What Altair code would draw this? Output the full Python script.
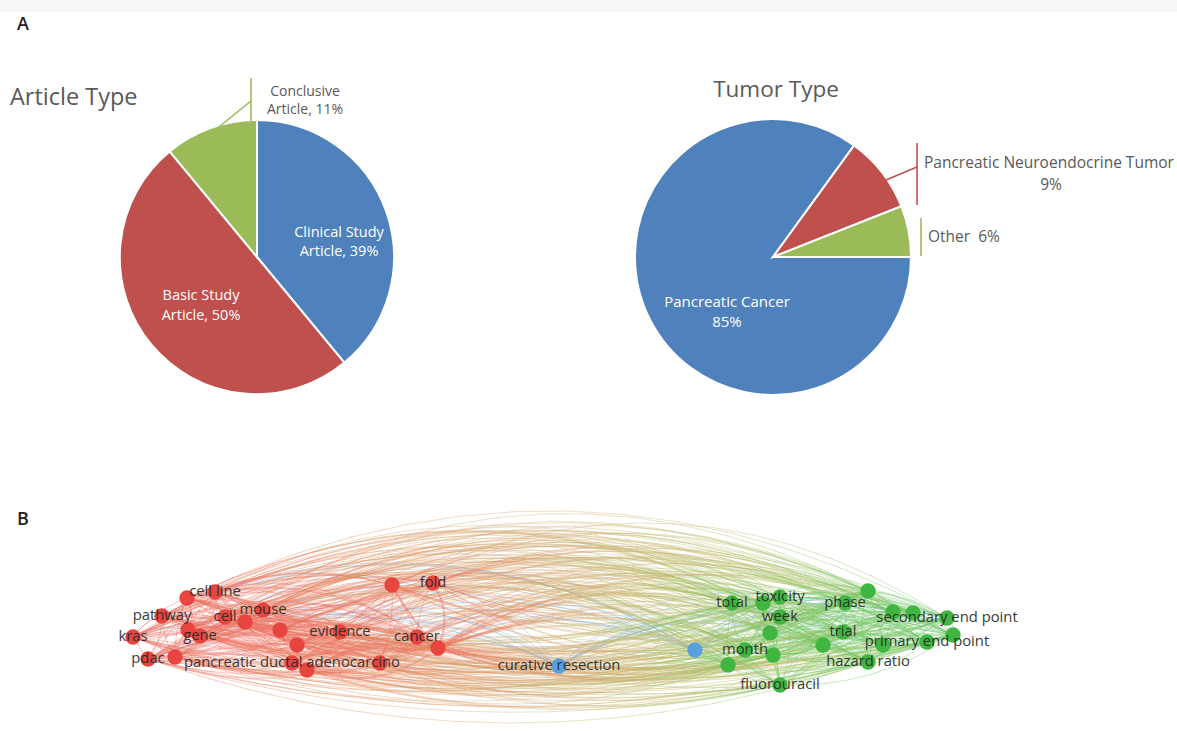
import math
import altair as alt
import pandas as pd

alt.data_transformers.disable_max_rows()

FIG_W, FIG_H = 1177, 731
FONT = "Open Sans"

# ---------------- Panel A: share of publications ----------------
article_types = ["Clinical Study Article", "Basic Study Article", "Conclusive Article"]
article_pct = [39, 50, 11]
tumor_types = ["Pancreatic Cancer", "Pancreatic Neuroendocrine Tumor", "Other"]
tumor_pct = [85, 9, 6]
slice_colors = ["#4F81BD", "#C0504D", "#9BBB59"]

# ---------------- Panel B: keyword co-occurrence map ----------------
# layout coordinates of every keyword node (x to the right, y upwards)
node_x = [-3.58, -3.30, -3.83, -4.12, -3.57, -3.45, -3.20, -3.00, -2.82, -2.65,
          -2.48, -2.05, -1.53, -1.12, -1.28, -1.07, -3.97, -3.70, -2.53, -2.38,
          -1.65,
          0.14, 1.50,
          1.87, 2.18, 2.35, 3.23, 3.00, 2.35, 2.25, 2.00, 2.28, 1.83,
          2.35, 2.78, 2.98, 3.48, 3.68, 4.02, 3.82, 4.08, 3.23, 3.38]
node_y = [0.42, 0.48, 0.24, 0.03, 0.10, 0.04, 0.23, 0.18, 0.30, 0.10,
          -0.05, 0.08, 0.55, 0.57, 0.03, -0.08, -0.19, -0.17, -0.23, -0.30,
          -0.23,
          -0.26, -0.10,
          0.37, 0.37, 0.43, 0.49, 0.37, 0.23, 0.07, -0.10, -0.15, -0.25,
          -0.45, -0.05, 0.08, 0.28, 0.27, 0.22, -0.02, 0.05, -0.22, -0.05]
node_cluster = ["r"] * 21 + ["b"] * 2 + ["g"] * 20
node_label = ["", "cell line", "pathway", "kras", "", "gene", "cell", "", "mouse", "",
              "", "evidence", "", "fold", "cancer", "", "pdac", "", "pancreatic ductal adenocarcino", "",
              "",
              "curative resection", "",
              "total", "", "toxicity", "", "phase", "week", "", "month", "", "",
              "fluorouracil", "", "trial", "", "", "secondary end point", "primary end point", "", "hazard ratio", ""]

red = [i for i, c in enumerate(node_cluster) if c == "r"]
blue = [i for i, c in enumerate(node_cluster) if c == "b"]
green = [i for i, c in enumerate(node_cluster) if c == "g"]

# co-occurrence links
links = [(i, j) for i in red for j in red if j > i]
links += [(i, j) for i in green for j in green if j > i]
links += [(i, j) for i in red for j in green if (2 * i + j) % 3]
blue_links = [(min(b, k), max(b, k)) for b in blue for k in red + green if (k + b) % 2 == 0]

BEND_IN = [0.05, 0.11, 0.17, 0.22, 0.27]
BEND_ACROSS = [0.17, 0.20, 0.23, 0.255, 0.28]


def curve_segments(a, b, nseg, bends, down=0.62):
    """Split the curved link a-b into short straight pieces."""
    x0, y0, x1, y1 = node_x[a], node_y[a], node_x[b], node_y[b]
    dx, dy = x1 - x0, y1 - y0
    length = math.hypot(dx, dy)
    nx, ny = -dy / length, dx / length
    up = (a + b) % 2 == 0
    c = bends[(3 * a + b) % len(bends)] * (1.0 if up else -down)
    cx = (x0 + x1) / 2 + nx * c * length
    cy = (y0 + y1) / 2 + ny * c * length

    def at(t):
        u = 1 - t
        return (u * u * x0 + 2 * u * t * cx + t * t * x1,
                u * u * y0 + 2 * u * t * cy + t * t * y1)

    out = []
    for k in range(nseg):
        t0, t1 = k / nseg, (k + 1) / nseg
        p, q = at(t0), at(t1)
        out.append((p[0], p[1], q[0], q[1], (t0 + t1) / 2))
    return out


rows = []
for a, b in links:
    ca, cb = node_cluster[a], node_cluster[b]
    across = ca != cb
    w = 2.2 if 15 in (a, b) else 1.0
    segs = curve_segments(a, b, 14 if across else 8, BEND_ACROSS if across else BEND_IN)
    for x, y, x2, y2, t in segs:
        shade = 0.0 if cb == "r" else (1.0 if ca == "g" else t)
        rows.append({"x": x, "y": y, "x2": x2, "y2": y2, "shade": shade, "w": w})
edge_df = pd.DataFrame(rows)

brows = []
for a, b in blue_links:
    for x, y, x2, y2, t in curve_segments(a, b, 12, BEND_ACROSS):
        brows.append({"x": x, "y": y, "x2": x2, "y2": y2})
blue_df = pd.DataFrame(brows)

node_df = pd.DataFrame({"x": node_x, "y": node_y, "cluster": node_cluster, "label": node_label})
label_df = node_df[node_df["label"] != ""]

xs = alt.Scale(domain=[-5.45, 6.32], nice=False, zero=False)
ys = alt.Scale(domain=[-0.91, 6.40], nice=False, zero=False)

blue_edges = alt.Chart(blue_df).mark_rule(color="#6fa8dc", opacity=0.35, strokeCap="round").encode(
    x=alt.X("x:Q", scale=xs, axis=None), y=alt.Y("y:Q", scale=ys, axis=None),
    x2="x2:Q", y2="y2:Q",
)
edges = alt.Chart(edge_df).mark_rule(opacity=0.38, strokeCap="round").encode(
    x=alt.X("x:Q", scale=xs, axis=None), y=alt.Y("y:Q", scale=ys, axis=None),
    x2="x2:Q", y2="y2:Q",
    color=alt.Color("shade:Q", legend=None,
                    scale=alt.Scale(domain=[0, 0.5, 1], range=["#ee6a60", "#d2b07a", "#66c866"])),
    strokeWidth=alt.StrokeWidth("w:Q", scale=None),
)
nodes = alt.Chart(node_df).mark_circle(size=235, opacity=1).encode(
    x=alt.X("x:Q", scale=xs, axis=None), y=alt.Y("y:Q", scale=ys, axis=None),
    color=alt.Color("cluster:N", legend=None,
                    scale=alt.Scale(domain=["r", "b", "g"], range=["#e8453f", "#5a9fdd", "#3fb63f"])),
)
labels = alt.Chart(label_df).mark_text(font=FONT, fontSize=14.8, color="#2b2b2b",
                                       align="center", baseline="middle", opacity=0.92).encode(
    x=alt.X("x:Q", scale=xs, axis=None), y=alt.Y("y:Q", scale=ys, axis=None),
    text="label:N",
)

ONE = pd.DataFrame({"k": [0]})


def pie(cats, pct, start, cx, cy, r):
    df = pd.DataFrame({"cat": cats, "pct": pct, "idx": list(range(len(cats)))})
    return alt.Chart(df).mark_arc(radius=r, stroke="white", strokeWidth=2).encode(
        theta=alt.Theta("pct:Q", stack=True,
                        scale=alt.Scale(range=[start, start + 2 * math.pi])),
        color=alt.Color("cat:N", legend=None, scale=alt.Scale(domain=cats, range=slice_colors)),
        order=alt.Order("idx:Q"),
        x=alt.value(cx), y=alt.value(cy),
    )


def note(text, x, y, size=14.5, color="#595959", align="center", lh=None, weight="normal"):
    kw = dict(font=FONT, fontSize=size, color=color, align=align, baseline="middle",
              fontWeight=weight)
    if lh:
        kw["lineHeight"] = lh
    return alt.Chart(ONE).mark_text(**kw).encode(
        x=alt.value(x), y=alt.value(y), text=alt.value(text))


def leader(x, y, x2, y2, color):
    return alt.Chart(ONE).mark_rule(color=color, strokeWidth=1.6).encode(
        x=alt.value(x), y=alt.value(y), x2=alt.value(x2), y2=alt.value(y2))


strip = alt.Chart(ONE).mark_rect(color="#f7f6f6").encode(
    x=alt.value(0), x2=alt.value(FIG_W), y=alt.value(0), y2=alt.value(12))

pie_article = pie(article_types, article_pct, 0.0, 257, 257, 137)
pie_tumor = pie(tumor_types, tumor_pct, math.pi / 2, 773, 257, 138)

notes = [
    note("A", 23, 25, size=18, color="#222222", weight=600),
    note("B", 23, 520, size=18, color="#222222", weight=600),
    note("Article Type", 10, 98, size=23.5, align="left"),
    note("Tumor Type", 776, 90, size=22.5),
    note(["Conclusive", "Article, 11%"], 305, 92, size=14, lh=18),
    note(["Clinical Study", "Article, 39%"], 339, 233, color="white", lh=19),
    note(["Basic Study", "Article, 50%"], 201, 296, color="white", lh=20),
    note("Pancreatic Neuroendocrine Tumor", 924, 163, size=15.5, align="left"),
    note("9%", 1051, 185, size=15.5),
    note("Other\u00a0\u00a06%", 928, 237, size=15.5, align="left"),
    note(["Pancreatic Cancer", "85%"], 727, 302, size=15, color="white", lh=20),
]
leaders = [
    leader(251, 78, 251, 125, "#9BBB59"),
    leader(209, 135, 251, 101, "#9BBB59"),
    leader(917, 143, 917, 205, "#C0504D"),
    leader(886, 180, 917, 167, "#C0504D"),
    leader(921, 218, 921, 256, "#9BBB59"),
]

chart = alt.layer(
    strip, blue_edges, edges, nodes, labels, pie_article, pie_tumor, *leaders, *notes
).resolve_scale(
    color="independent", theta="independent"
).properties(
    width=FIG_W, height=FIG_H, padding=0, autosize="none", background="white"
).configure_view(stroke=None)

chart.save("out.html", embed_options={"renderer": "svg", "actions": False})
